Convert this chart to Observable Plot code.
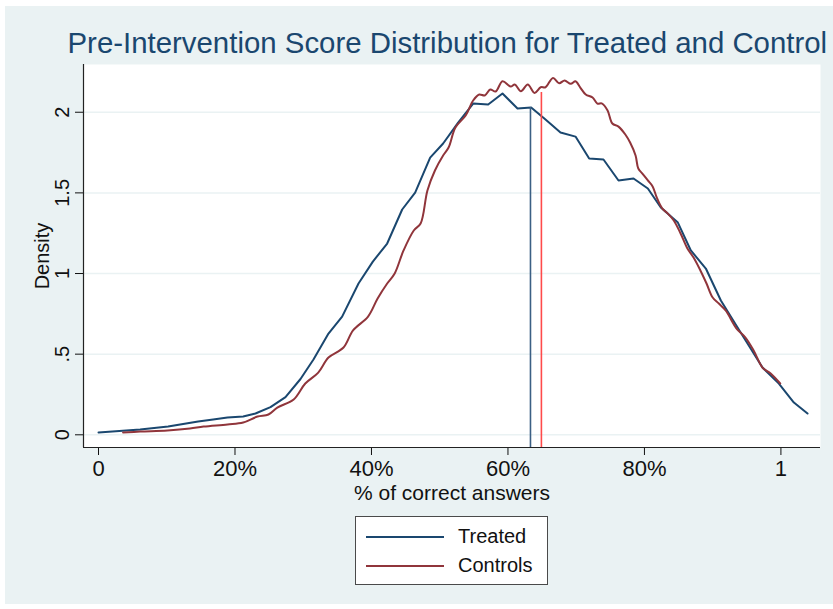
<!DOCTYPE html>
<html>
<head>
<meta charset="utf-8">
<script src="https://cdn.jsdelivr.net/npm/d3@7"></script>
<script src="https://cdn.jsdelivr.net/npm/@observablehq/plot@0.6"></script>
<style>
  html, body { margin: 0; padding: 0; background: #ffffff; }
  #wrap { position: relative; width: 833px; height: 609px; overflow: hidden; font-family: "Liberation Sans", Arial, Helvetica, sans-serif; }
  #bg { position: absolute; left: 5px; top: 6px; right: 0; bottom: 5px; background: #eaf2f3; }
  #chart { position: absolute; left: 0; top: 0; }
  #chart svg [aria-label^="x-axis"] text { font-size: 22px; }
  #legend { position: absolute; left: 355px; top: 516px; width: 191px; height: 67px; background: #fff; border: 1px solid #4a4a4a; }
  .lg-line { position: absolute; left: 10px; width: 78px; height: 0; border-top: 2px solid; }
  .lg-text { position: absolute; left: 102px; font-size: 20px; line-height: 20px; color: #111; }
</style>
</head>
<body>
<div id="wrap">
  <div id="bg"></div>
  <div id="chart"></div>
  <div id="legend"></div>
</div>
<script>
// ---- data ----
const treatedX = [0, 0.061, 0.102, 0.146, 0.168, 0.189, 0.212, 0.230, 0.252, 0.274, 0.296, 0.315, 0.337, 0.357, 0.381, 0.402, 0.423, 0.445, 0.464, 0.486, 0.505, 0.527, 0.549, 0.571, 0.592, 0.614, 0.634, 0.655, 0.677, 0.699, 0.719, 0.740, 0.762, 0.784, 0.805, 0.824, 0.849, 0.868, 0.890, 0.912, 0.941, 0.973, 0.997, 1.019, 1.039];
const treatedY = [0.014, 0.033, 0.051, 0.082, 0.095, 0.107, 0.114, 0.132, 0.172, 0.234, 0.346, 0.467, 0.628, 0.733, 0.938, 1.074, 1.186, 1.397, 1.502, 1.719, 1.806, 1.936, 2.054, 2.048, 2.116, 2.023, 2.029, 1.955, 1.874, 1.849, 1.713, 1.707, 1.577, 1.589, 1.527, 1.409, 1.316, 1.143, 1.031, 0.833, 0.634, 0.417, 0.318, 0.200, 0.132];

const controlsX = [0.036, 0.061, 0.101, 0.134, 0.154, 0.189, 0.212, 0.233, 0.249, 0.262, 0.286, 0.303, 0.322, 0.337, 0.359, 0.373, 0.395, 0.409, 0.423, 0.434, 0.447, 0.462, 0.472, 0.482, 0.493, 0.505, 0.513, 0.523, 0.538, 0.549, 0.558, 0.566, 0.574, 0.582, 0.592, 0.604, 0.610, 0.619, 0.629, 0.639, 0.648, 0.655, 0.666, 0.675, 0.683, 0.692, 0.699, 0.706, 0.714, 0.724, 0.731, 0.738, 0.746, 0.753, 0.762, 0.772, 0.779, 0.787, 0.791, 0.797, 0.805, 0.812, 0.818, 0.826, 0.834, 0.843, 0.853, 0.863, 0.872, 0.882, 0.891, 0.900, 0.909, 0.919, 0.935, 0.948, 0.960, 0.973, 0.985, 0.999];
const controlsY = [0.014, 0.020, 0.027, 0.039, 0.051, 0.064, 0.076, 0.113, 0.126, 0.169, 0.219, 0.318, 0.386, 0.479, 0.541, 0.647, 0.733, 0.845, 0.938, 1.000, 1.143, 1.267, 1.310, 1.515, 1.639, 1.732, 1.781, 1.905, 1.980, 2.073, 2.110, 2.104, 2.141, 2.129, 2.192, 2.159, 2.172, 2.130, 2.172, 2.120, 2.155, 2.155, 2.213, 2.180, 2.197, 2.176, 2.192, 2.153, 2.110, 2.091, 2.054, 2.054, 2.011, 1.930, 1.911, 1.862, 1.812, 1.732, 1.651, 1.620, 1.577, 1.540, 1.472, 1.404, 1.373, 1.329, 1.248, 1.155, 1.099, 1.019, 0.938, 0.851, 0.814, 0.771, 0.659, 0.603, 0.523, 0.417, 0.380, 0.318];

const meanSeries = ["Treated", "Controls"];
const meanX = [0.633, 0.649];
const meanTop = [2.029, 2.122];

const xTicks = [0, 0.2, 0.4, 0.6, 0.8, 1];
const xTickLabels = ["0", "20%", "40%", "60%", "80%", "1"];
const yTicks = [0, 0.5, 1, 1.5, 2];
const yTickLabels = ["0", ".5", "1", "1.5", "2"];

const titleText = "Pre-Intervention Score Distribution for Treated and Control";
const xTitle = "% of correct answers";
const yTitle = "Density";
const legendLabels = ["Treated", "Controls"];

// ---- styles ----
const navy = "#1a476f";
const maroon = "#90353b";
const meanColors = ["#3b5f84", "#ff4a4a"];
const xDomain = [-0.022, 1.058];
const yDomain = [-0.0787, 2.296];

const treated = treatedX.map((x, i) => ({x, y: treatedY[i]}));
const controls = controlsX.map((x, i) => ({x, y: controlsY[i]}));
const means = meanSeries.map((s, i) => ({s, x: meanX[i], y1: yDomain[0], y2: meanTop[i], c: meanColors[i]}));

const chart = Plot.plot({
  width: 833,
  height: 510,
  marginTop: 64,
  marginLeft: 83,
  marginRight: 13,
  marginBottom: 63,
  style: {background: "transparent", fontFamily: "'Liberation Sans', Arial, sans-serif", fontSize: "20px", color: "#111", overflow: "visible"},
  x: {domain: xDomain, ticks: xTicks, tickFormat: d => xTickLabels[xTicks.indexOf(d)], tickSize: 8, tickPadding: 5, label: null},
  y: {domain: yDomain, ticks: yTicks, tickFormat: d => yTickLabels[yTicks.indexOf(d)], tickSize: 8, tickPadding: 7, tickRotate: -90, label: null},
  marks: [
    Plot.frame({fill: "white", stroke: "none"}),
    Plot.ruleY(yTicks, {stroke: "#eaf2f3", strokeWidth: 1.5}),
    Plot.line(treated, {x: "x", y: "y", stroke: navy, strokeWidth: 2}),
    Plot.line(controls, {x: "x", y: "y", stroke: maroon, strokeWidth: 2, curve: "catmull-rom"}),
    Plot.ruleX(means, {x: "x", y1: "y1", y2: "y2", stroke: "c", strokeWidth: 1.6}),
    Plot.ruleX([xDomain[0]], {stroke: "#222", strokeWidth: 1.2}),
    Plot.ruleY([yDomain[0]], {stroke: "#222", strokeWidth: 1.2}),
    Plot.text([xTitle], {frameAnchor: "bottom", lineAnchor: "middle", textAnchor: "middle", dy: 46, fontSize: 21, fill: "#111"}),
    Plot.text([yTitle], {frameAnchor: "left", textAnchor: "middle", lineAnchor: "middle", dx: -41, rotate: -90, fontSize: 20, fill: "#111"}),
    Plot.text([titleText], {frameAnchor: "top-left", dx: -16, dy: -32, textAnchor: "start", lineAnchor: "top", fontSize: 29.4, fill: navy})
  ]
});
document.getElementById("chart").appendChild(chart);

// ---- legend ----
const lg = document.getElementById("legend");
const lgColors = [navy, maroon];
const lgTops = [19, 48];
legendLabels.forEach((lab, i) => {
  const l = document.createElement("div");
  l.className = "lg-line";
  l.style.top = lgTops[i] + "px";
  l.style.borderTopColor = lgColors[i];
  lg.appendChild(l);
  const t = document.createElement("div");
  t.className = "lg-text";
  t.style.top = (lgTops[i] - 10) + "px";
  t.textContent = lab;
  lg.appendChild(t);
});
</script>
</body>
</html>
